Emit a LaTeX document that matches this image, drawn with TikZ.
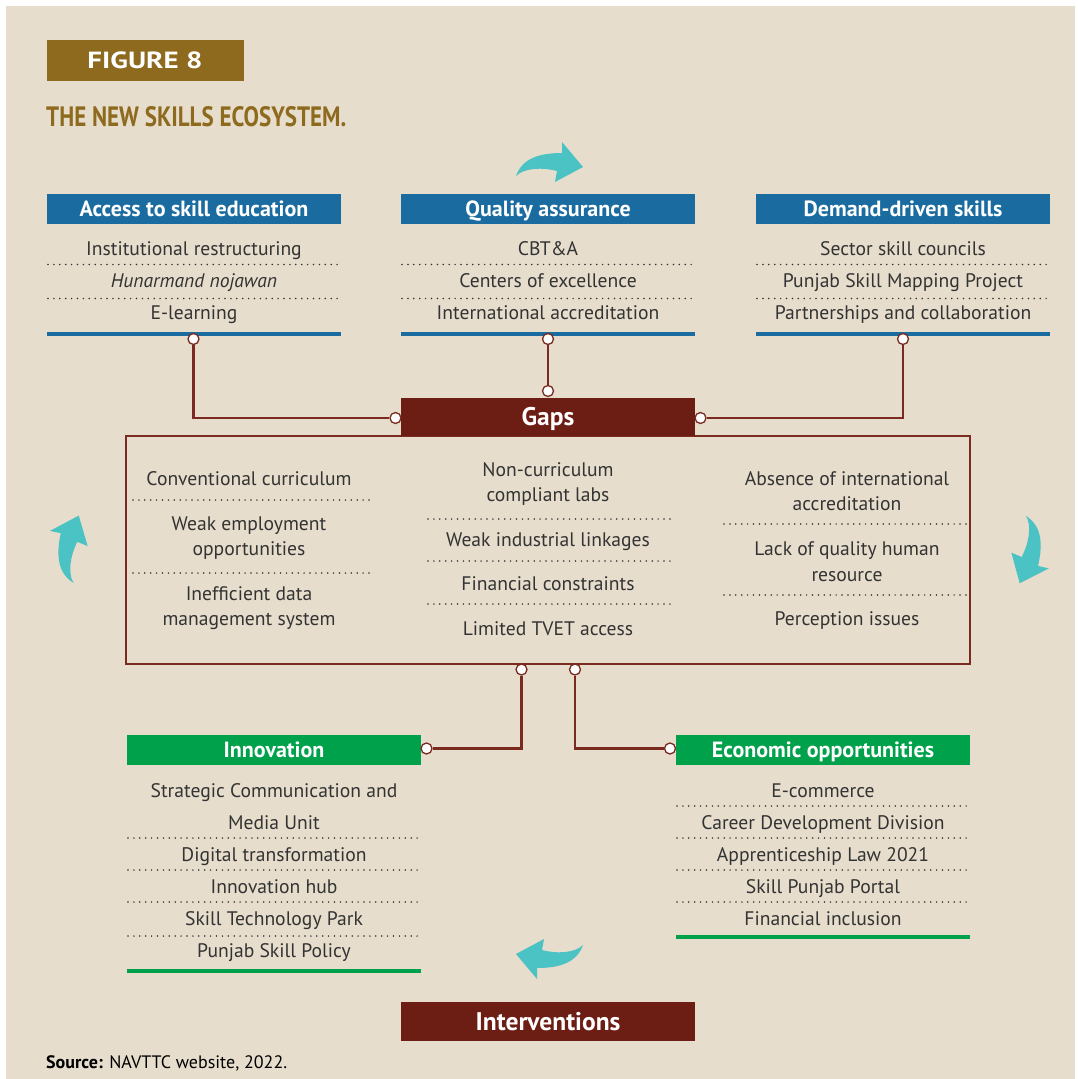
\documentclass[tikz,border=0pt]{standalone}
\usepackage{fontspec}
\setmainfont{PT Sans}
\usetikzlibrary{calc}

\definecolor{paper}{HTML}{E6DDCC}
\definecolor{gold}{HTML}{8E6A1E}
\definecolor{hblue}{HTML}{1A6CA0}
\definecolor{hred}{HTML}{6C1E14}
\definecolor{lred}{HTML}{7A2A1E}
\definecolor{hgreen}{HTML}{00A14B}
\definecolor{aqua}{HTML}{4BC3C5}
\definecolor{ink}{HTML}{333333}

\newcommand\itemfont{\fontsize{19.6}{22}\selectfont}
\newcommand\headfont{\fontsize{22}{26}\selectfont\bfseries}
\newcommand\bigheadfont{\fontsize{25.5}{30}\selectfont\bfseries}

\tikzset{
  head/.style={fill=#1, text=white, font=\headfont, minimum width=294pt,
    minimum height=30pt, inner sep=0pt, text height=15.4pt, text depth=0pt},
  bighead/.style={fill=hred, text=white, font=\bigheadfont, minimum width=294pt,
    inner sep=0pt, text height=17.9pt, text depth=0pt},
  item/.style={text=ink, font=\itemfont, anchor=mid, inner sep=0pt, yshift=-4.5pt},
  sep/.style={draw=ink, line width=1.7pt, line cap=round, dash pattern=on 0pt off 5.9pt},
  rule/.style={line width=3.5pt, draw=#1},
  conn/.style={draw=lred, line width=2.8pt},
  joint/.style={circle, draw=lred, fill=white, line width=1.3pt, minimum size=11pt, inner sep=0pt},
  turn/.pic={\fill[aqua] (-34,13) .. controls (-28,-4) and (-12,-10) .. (12,-10)
      -- (12,-21) -- (33,4) -- (5,19) -- (7,8)
      .. controls (-8,4) and (-26,5) .. cycle;}
}

\begin{document}
\begin{tikzpicture}[x=1pt, y=-1pt]
\useasboundingbox (0,0) rectangle (1077,1079);
\fill[white] (0,0) rectangle (1077,1079);
\fill[paper] (6,6) rectangle (1075,1079);

% caption block
\node[fill=gold, minimum width=197pt, minimum height=41pt, inner sep=0pt] (fig) at (145,60)
  {\color{white}\resizebox{115pt}{16.7pt}{\bfseries FIGURE 8}};
\node[anchor=base west, inner sep=0pt, text=gold] (title) at (46,126.5)
  {\resizebox{300pt}{20pt}{\bfseries THE NEW SKILLS ECOSYSTEM.}};

% cycle arrows
\pic at (550,163) {turn};
\pic[rotate=-103] at (1031,552) {turn};
\pic[rotate=180] at (549,958) {turn};
\pic[rotate=78] at (68,547) {turn};

% top columns
\node[head=hblue] (access) at (194,208.5) {Access to skill education};
\node[head=hblue] (quality) at (548,208.5) {Quality assurance};
\node[head=hblue] (demand) at (903,208.5) {Demand-driven skills};

\node[item] (a1) at (194,248) {Institutional restructuring};
\node[item] (a2) at (194,280) {\itshape Hunarmand nojawan};
\node[item] (a3) at (194,312) {E-learning};
\node[item] (q1) at (548,248) {CBT\&A};
\node[item] (q2) at (548,280) {Centers of excellence};
\node[item] (q3) at (548,312) {International accreditation};
\node[item] (d1) at (903,248) {Sector skill councils};
\node[item] (d2) at (903,280) {Punjab Skill Mapping Project};
\node[item] (d3) at (903,312) {Partnerships and collaboration};

\foreach \xa/\xb in {47/341, 401/695, 756/1050} {
  \draw[sep] (\xa+1,264.5) -- (\xb,264.5);
  \draw[sep] (\xa+1,298.5) -- (\xb,298.5);
  \draw[rule=hblue] (\xa,334) -- (\xb,334);
}

% gaps block
\node[draw=lred, line width=2.2pt, minimum width=844pt, minimum height=228pt, inner sep=0pt]
  (gapbox) at (548,550) {};
\node[bighead, minimum height=38pt] (gaps) at (548,417) {Gaps};

\node[item] (g11) at (249,478) {Conventional curriculum};
\node[item] (g12) at (249,523) {Weak employment};
\node[item] (g13) at (249,548) {opportunities};
\node[item] (g14) at (249,593) {Inefficient data};
\node[item] (g15) at (249,618) {management system};
\draw[sep] (133,500) -- (370,500);
\draw[sep] (133,573) -- (370,573);

\node[item] (g21) at (548,469) {Non-curriculum};
\node[item] (g22) at (548,494) {compliant labs};
\node[item] (g23) at (548,539) {Weak industrial linkages};
\node[item] (g24) at (548,583) {Financial constraints};
\node[item] (g25) at (548,628) {Limited TVET access};
\draw[sep] (428,519) -- (670,519);
\draw[sep] (428,561) -- (670,561);
\draw[sep] (428,604) -- (670,604);

\node[item] (g31) at (847,478) {Absence of international};
\node[item] (g32) at (847,503) {accreditation};
\node[item] (g33) at (847,548) {Lack of quality human};
\node[item] (g34) at (847,574) {resource};
\node[item] (g35) at (847,618) {Perception issues};
\draw[sep] (724,524) -- (967,524);
\draw[sep] (724,595) -- (967,595);

% bottom columns
\node[head=hgreen] (innov) at (274,750) {Innovation};
\node[head=hgreen] (econ) at (823,750) {Economic opportunities};

\node[item] (n1) at (274,790) {Strategic Communication and};
\node[item] (n2) at (274,822) {Media Unit};
\node[item] (n3) at (274,854) {Digital transformation};
\node[item] (n4) at (274,886) {Innovation hub};
\node[item] (n5) at (274,918) {Skill Technology Park};
\node[item] (n6) at (274,950) {Punjab Skill Policy};
\foreach \yy in {838,870,902,936} \draw[sep] (128,\yy) -- (421,\yy);
\draw[rule=hgreen] (127,971) -- (421,971);

\node[item] (e1) at (823,790) {E-commerce};
\node[item] (e2) at (823,822) {Career Development Division};
\node[item] (e3) at (823,854) {Apprenticeship Law 2021};
\node[item] (e4) at (823,886) {Skill Punjab Portal};
\node[item] (e5) at (823,918) {Financial inclusion};
\foreach \yy in {806,838,870,902} \draw[sep] (677,\yy) -- (970,\yy);
\draw[rule=hgreen] (676,937) -- (970,937);

\node[bighead, minimum height=39pt] (interv) at (548,1021.5) {Interventions};

% joints and connectors
\node[joint] (ja) at (193.5,339) {};
\node[joint] (jga) at (395.5,418) {};
\node[joint] (jq) at (548,339) {};
\node[joint] (jgq) at (548,391) {};
\node[joint] (jd) at (903,339) {};
\node[joint] (jgd) at (700.5,418) {};
\node[joint] (jbl) at (521.5,669.5) {};
\node[joint] (jbr) at (575,669.5) {};
\node[joint] (ji) at (426.5,748.5) {};
\node[joint] (je) at (670,748.5) {};

\draw[conn] (ja) |- (jga);
\draw[conn] (jq) -- (jgq);
\draw[conn] (jd) |- (jgd);
\draw[conn] (jbl) |- (ji);
\draw[conn] (jbr) |- (je);

% source line
\node[anchor=base west, inner sep=0pt, font=\fontsize{18}{20}\selectfont] (src) at (46,1068)
  {\textbf{Source:} NAVTTC website, 2022.};
\end{tikzpicture}
\end{document}
